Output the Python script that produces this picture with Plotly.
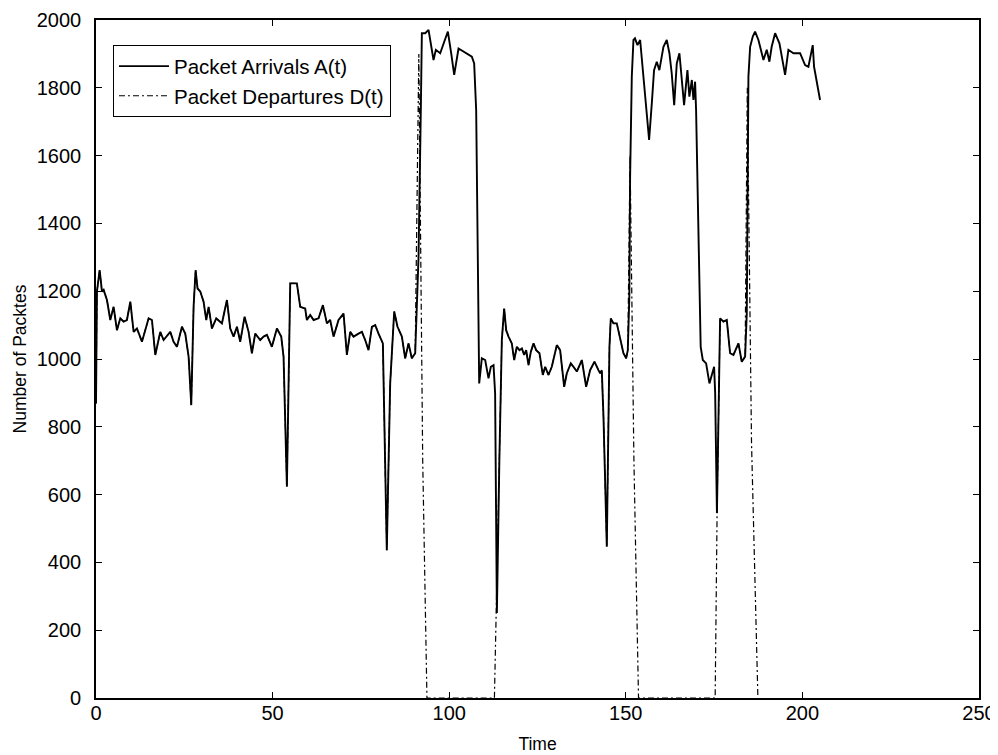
import plotly.graph_objects as go

# ---- Packet arrivals A(t): time and value readings ----
arr_time = [0, 0.27, 1.03, 1.69, 2.16, 3.1, 4.05, 4.99, 5.93, 6.88, 7.82, 8.76, 9.71, 10.65, 11.59,
            13.01, 14.9, 15.84, 16.78, 18.2, 19.14, 21.03, 21.97, 22.92, 24.33, 25.27, 26.22, 26.97,
            27.63, 28.2, 28.76, 29.52, 30.46, 31.22, 31.88, 32.82, 34.05, 35.65, 37.07, 38.01, 38.95,
            39.9, 40.84, 42.07, 43.2, 44.14, 45.08, 46.5, 47.44, 48.39, 49.8, 51.22, 52.44, 53.1,
            54.05, 54.99, 56.88, 57.82, 59.23, 59.71, 60.65, 61.6, 63.01, 64.24, 65.37, 66.31, 67.26,
            68.67, 70.09, 71.03, 71.97, 72.92, 74.33, 75.28, 76.22, 77.16, 78.11, 79.05, 79.99, 81.22,
            82.33, 83.29, 84.43, 85.37, 86.6, 87.54, 88.48, 89.42, 90.37, 91.32, 91.98, 92.26, 93.2,
            94.15, 95.56, 96.22, 97.45, 98.39, 99.62, 100.56, 101.41, 102.64, 104.05, 105.0, 106.41,
            107.07, 107.64, 108.49, 109.24, 110.19, 111.13, 111.79, 112.55, 113.0, 113.5, 114.2,
            114.9, 115.56, 116.13, 116.79, 117.73, 118.4, 119.15, 119.9, 120.57, 121.22, 121.79,
            122.45, 123.11, 123.87, 124.62, 125.56, 126.5, 127.17, 128.11, 129.05, 130.47, 131.41,
            132.55, 133.3, 134.43, 135.19, 136.13, 137.55, 138.77, 139.9, 141.13, 142.26, 142.73,
            143.2, 143.68, 144.62, 145.37, 145.75, 146.5, 147.45, 148.4, 149.33, 150.1, 150.57,
            151.0, 151.22, 151.7, 152.17, 152.6, 153.3, 154.06, 155.0, 155.94, 156.6, 157.36, 158.0,
            158.77, 159.5, 160.66, 161.6, 162.35, 163.0, 163.7, 164.43, 165.18, 165.85, 166.5,
            167.45, 168.0, 168.7, 169.15, 169.62, 169.9, 171.2, 171.8, 172.74, 173.68, 175.0, 175.3,
            175.8, 176.3, 176.7, 177.64, 178.59, 179.53, 180.47, 181.89, 182.83, 183.78, 184.25,
            184.72, 185.2, 185.95, 186.6, 187.55, 188.97, 189.91, 190.66, 191.3, 192.27, 193.5,
            194.44, 195.1, 196.04, 197.46, 199.34, 200.76, 201.7, 202.36, 202.93, 203.3, 204.06, 205.0]

arr_values = [869, 1199, 1262, 1199, 1204, 1174, 1115, 1154, 1085, 1120, 1110, 1115, 1169, 1080, 1090,
              1051, 1120, 1115, 1012, 1080, 1056, 1080, 1051, 1036, 1095, 1075, 1007, 864,
              1154, 1262, 1208, 1199, 1169, 1115, 1154, 1090, 1120, 1105, 1174, 1090, 1066,
              1095, 1051, 1125, 1080, 1017, 1075, 1056, 1066, 1071, 1036, 1090, 1066, 1007,
              623, 1223, 1223, 1154, 1149, 1115, 1130, 1115, 1120, 1159, 1105, 1115, 1066,
              1115, 1134, 1012, 1080, 1066, 1075, 1080, 1056, 1026, 1095, 1100, 1075, 1046,
              436, 928, 1140, 1095, 1066, 1002, 1046, 1002, 1017, 1302, 1744, 1961, 1961,
              1971, 1882, 1912, 1902, 1931, 1966, 1902, 1838, 1916, 1907, 1902, 1892,
              1872, 1734, 928, 1002, 997, 943, 977, 982, 899, 251, 700,
              1056, 1149, 1085, 1066, 1046, 997, 1036, 1026, 1031, 1012, 1026,
              982, 1021, 1046, 1026, 1017, 953, 977, 953, 977, 1041, 1026,
              918, 958, 987, 977, 963, 997, 918, 967, 992, 967, 958,
              967, 830, 446, 1036, 1120, 1105, 1105, 1056, 1017, 1002, 1026,
              1184, 1538, 1833, 1941, 1946, 1926, 1941, 1833, 1705, 1646, 1754, 1852,
              1877, 1852, 1921, 1941, 1902, 1843, 1749, 1872, 1902, 1833, 1749,
              1852, 1774, 1823, 1764, 1818, 1734, 1036, 997, 987, 928, 977, 900,
              546, 900, 1120, 1110, 1115, 1017, 1012, 1046, 992, 1007, 1134,
              1833, 1921, 1951, 1966, 1941, 1882, 1912, 1877, 1921, 1961, 1931,
              1882, 1838, 1912, 1902, 1902, 1867, 1862, 1892, 1926, 1862, 1813, 1764]

# ---- Packet departures D(t): coincides with A(t) inside these windows ----
dep_follow_windows = [(0, 90.37), (114.2, 150.57), (176.3, 183.78)]
# ... and departs from A(t) through these readings (drops to zero / returns)
dep_extra_time = [91.4, 92.5, 93.7, 112.8, 151.2, 152.3, 153.6, 175.3, 175.9, 184.4, 185.6, 187.4]
dep_extra_values = [1900, 700, 0, 0, 1600, 700, 0, 0, 600, 1800, 750, 0]

dep_pts = [(t, v) for t, v in zip(arr_time, arr_values)
           if any(a <= t <= b for a, b in dep_follow_windows)]
dep_pts += list(zip(dep_extra_time, dep_extra_values))
dep_pts.sort()
dep_time = [p[0] for p in dep_pts]
dep_values = [p[1] for p in dep_pts]

x_ticks = [0, 50, 100, 150, 200, 250]
y_ticks = [0, 200, 400, 600, 800, 1000, 1200, 1400, 1600, 1800, 2000]

FONT = "Liberation Sans, Arial, Helvetica, sans-serif"

fig = go.Figure()
fig.add_trace(go.Scatter(x=arr_time, y=arr_values, mode="lines", name="Packet Arrivals A(t)",
                         line=dict(color="black", width=1.9)))
fig.add_trace(go.Scatter(x=dep_time, y=dep_values, mode="lines", name="Packet Departures D(t)",
                         line=dict(color="black", width=1.2, dash="6px,3px,2px,3px")))

axis_common = dict(showline=True, linecolor="black", linewidth=1.6, mirror="ticks",
                   ticks="inside", ticklen=6, tickwidth=1.4, tickcolor="black",
                   showgrid=False, zeroline=False, automargin=False,
                   tickfont=dict(family=FONT, size=20, color="black"))

fig.update_xaxes(range=[0, 250], tickvals=x_ticks, ticktext=[str(v) for v in x_ticks],
                 ticklabelstandoff=-4,
                 title=dict(text="Time", font=dict(family=FONT, size=17.5, color="black"), standoff=15),
                 **axis_common)
fig.update_yaxes(range=[0, 2000], tickvals=y_ticks, ticktext=[str(v) for v in y_ticks],
                 ticklabelstandoff=9,
                 title=dict(text="Number of Packtes", font=dict(family=FONT, size=17.5, color="black"), standoff=6),
                 **axis_common)

# the page puts the figure 8px in from the top-left corner, so sizes account for that
fig.update_layout(
    width=990, height=747,
    margin=dict(l=88, r=19, t=12, b=57),
    paper_bgcolor="white", plot_bgcolor="white",
    showlegend=True,
    legend=dict(x=0.019, y=0.963, xanchor="left", yanchor="top",
                bgcolor="white", bordercolor="black", borderwidth=1.2,
                font=dict(family=FONT, size=20.5, color="black"),
                tracegroupgap=0, itemwidth=50),
)

fig.write_html("out.html")
